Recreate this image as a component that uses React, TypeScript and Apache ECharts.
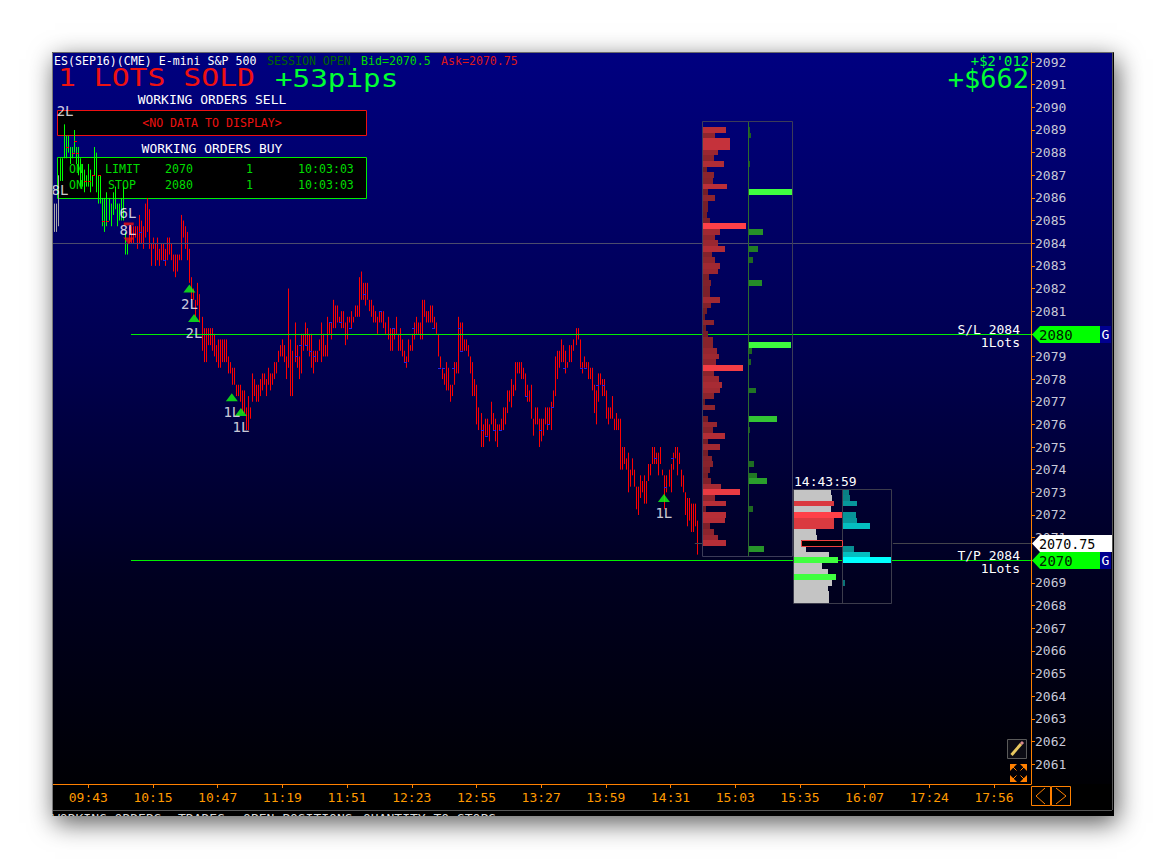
import React, { useEffect, useRef } from "react";
import * as echarts from "echarts";

const MONO = '"DejaVu Sans Mono"';
const priceMin = 2060.12;
const priceMax = 2092.4;
const slotMin = -17.46;
const slotMax = 466.3;

const yTicks = [2061,2062,2063,2064,2065,2066,2067,2068,2069,2070,2071,2072,2073,2074,2075,2076,2077,2078,2079,2080,2081,2082,2083,2084,2085,2086,2087,2088,2089,2090,2091,2092];
const yLabels = [2061,2062,2063,2064,2065,2066,2067,2068,2069,2071,2072,2073,2074,2075,2076,2077,2078,2079,2081,2082,2083,2084,2085,2086,2087,2088,2089,2090,2091,2092];
const xTickSlots = [0,32,64,96,128,160,192,224,256,288,320,352,384,416,448];
const xTickLabels = ["09:43","10:15","10:47","11:19","11:51","12:23","12:55","13:27","13:59","14:31","15:03","15:35","16:07","17:24","17:56"];

const grayHighs = [2085.75,2085.75,2087];
const grayLows = [2084.5,2084.5,2084.75];
const greenHighs = [2087.75,2087.75,2089.25,2088.75,2088.75,2088.25,2088.25,2089,2088.25,2088.25,2087.75,2087.5,2087.25,2087,2087.5,2087.25,2087,2088.25,2088,2087,2087,2086,2086,2086.25,2086,2085.75,2086.25,2086.5,2085.75,2085.75,2086,2086.5,2084.5,2084];
const greenLows = [2086.75,2086.75,2087.75,2087.75,2088,2087.5,2087.75,2088,2087.5,2087,2086.5,2086.5,2086.25,2086.5,2086.5,2086.25,2086.5,2087,2086.25,2085.75,2085.75,2084.75,2084.5,2084.75,2085,2084.75,2085.25,2085.5,2084.75,2085,2085,2085,2083.5,2083.5];
const redHighs = [
  2084.75,2084.75,2084.75,2084.75,2084.75,2085.25,2085,2084.75,2085.75,2086,2085.5,2084,2084.25,2084,2084.25,2083.75,2084,2084,2083.75,2084.25,
  2084.25,2084,2083.5,2083.5,2083.5,2083.5,2085.25,2085,2084.75,2084.5,2083.75,2082.5,2082,2081.5,2082.25,2081.75,2080.75,2080.25,2080.25,2080.25,
  2080.25,2080.25,2080,2079.5,2079.75,2079.75,2079.75,2079.75,2079.75,2079,2078.75,2078.5,2078.5,2077.75,2077.75,2077.75,2077.5,2077.5,2076.75,2077.25,
  2076.75,2078.25,2078,2077.75,2077.75,2078,2078.25,2078.25,2078,2078.5,2078.25,2078.25,2078.75,2078.75,2079.25,2079.5,2079.75,2079.5,2079,2082,
  2079.75,2079.25,2080.5,2079.5,2079,2080,2080,2080.5,2080.25,2080,2080,2079.25,2079.25,2079.25,2079.75,2080.5,2080,2079.5,2080.75,2080.5,
  2080.5,2081.5,2081.25,2081.25,2080.75,2081,2081,2080.5,2080.75,2080.75,2081,2080.75,2081.25,2081.25,2082.5,2082.75,2082.25,2082.25,2082.25,2081.5,
  2081.5,
  2081.25,2081,2080.75,2081,2081,2081,2080.5,2080.75,2080.25,2080.25,2080.25,2080.75,2080,2080.25,2079.75,2079.25,2079,2079.75,2079.5,2080,
  2080.5,2080.75,2080.5,2080.5,2081.5,2081.5,2081,2081,2081.25,2081.25,2080.75,2080.5,2080,2079,2078.5,2078.25,2078.75,2078.5,2077.75,2077.75,
  2078.75,2078.75,2080.75,2080.5,2080.5,2079.75,2079.75,2079.5,2079,2078.75,2078,2077.75,2076.75,2076.5,2076,2076.25,2076.25,2076,2077,2076.5,
  2076.25,2076,2076,2076.25,2076.75,2076.75,2077.5,2077.5,2078,2077.75,2078.75,2078.75,2078.75,2078.75,2078.5,2078.25,2077.75,2077.5,2077.75,2076.25,
  2076.75,2076.75,2076.25,2076.25,2076.25,2076.75,2076.75,2076.75,2077,2077.5,2079,2079.25,2079.25,2079.75,2079.5,2079.25,2078.75,2079.5,2079.5,2079.75,
  2080.25,2080.25,2079.75,2078.75,2079,2078.75,2078.75,2078.5,2078.5,2077.75,2077.5,2078.25,2078.25,2078,2078,2077.5,2076.75,2076.75,2077.25,2076.25,
  2076.5,2076.25,2076.25,2075,2075,2074.5,2074.75,2074,2074.5,2074,2073.25,2073.25,2073.75,2073.5,2073.75,2073.5,2074.25,2074.25,2075,2075,
  2074.75,2074.75,2075,2074,2073.75,2073.75,2074,2074.25,2074.75,2075,2075,2074.75,2074,2073.75,2073,2072.75,2072.75,2072.5,2072.5,2072.5,2071.75,
];
const redLows = [
  2084,2084,2084,2084.25,2083.75,2084,2084,2083.75,2084.25,2084.5,2083.75,2083,2083.75,2083,2083.25,2083,2083.25,2083.25,2083,2083.25,
  2083.5,2083.25,2082.75,2082.5,2082.75,2083.25,2083.25,2084.25,2083.75,2083.25,2082.25,2081.5,2081.5,2080.75,2081.25,2080.5,2079.25,2078.75,2078.75,2079.5,
  2079.5,2079.25,2079,2078.75,2078.5,2078.5,2078.75,2078.75,2078.75,2078.25,2078.25,2077.75,2077.75,2077.25,2077.25,2077,2076.5,2076.5,2075.75,2075.75,
  2076.25,2077,2077.25,2077,2077,2077.25,2077.5,2077.75,2077.25,2077.75,2077.5,2077.75,2078,2078.25,2078.75,2079,2079,2078.75,2078,2078.5,
  2077.25,2077.25,2078.75,2078.5,2078,2078.25,2079.25,2079.5,2079.25,2079,2078.5,2078.25,2078.75,2078.75,2079.25,2078.75,2079,2079,2079,2080,
  2079.75,2080.25,2080.25,2080.5,2080.5,2080.25,2080.25,2079.5,2079.75,2080.5,2080.25,2080.5,2080.75,2080.75,2080.75,2081.5,2081.5,2081.25,2081.5,2081,
  2080.75,
  2080.5,2080.5,2080,2080.5,2080.5,2080.25,2080,2079.75,2079.25,2079.25,2079.75,2080,2079.25,2079.25,2079,2078.75,2078.5,2078.75,2079.25,2079.25,
  2079.75,2080,2080,2079.75,2079.75,2080.75,2080.5,2080.5,2080.5,2080.5,2080.25,2080,2079,2078.5,2078,2077.75,2077.5,2077.5,2077,2077.25,
  2077.75,2078.25,2078.25,2079.25,2079.25,2079.25,2079.25,2079,2078.25,2077.25,2077.25,2076,2075.75,2075,2075,2075.5,2075.5,2075.25,2076,2075.75,
  2075.25,2075,2075.75,2075.75,2075.75,2076,2076.5,2077,2076.75,2077.25,2077.5,2078.25,2078.25,2078,2078,2077.25,2077,2077,2076.25,2075.5,
  2076,2076,2075,2075.25,2075.5,2076,2075.75,2076,2075.75,2076.75,2077.25,2078,2078.5,2078.75,2078.75,2078.25,2078.5,2078.75,2078.75,2079.25,
  2079.5,2079.75,2078.5,2078.25,2078.5,2078.5,2078,2078,2077.5,2076.5,2076,2077,2077.75,2077.25,2077.25,2076.25,2076,2076.25,2076.25,2075.75,
  2075.75,2075.75,2074,2074,2074.25,2074,2073,2073.25,2073.75,2073.25,2072.25,2072,2072.75,2073,2072.5,2072.5,2073.5,2073.75,2074.25,2074.25,
  2074.25,2073.75,2074.25,2073.75,2072.25,2073,2073.25,2073,2074,2074.5,2073.75,2074.25,2073.25,2073,2072,2071.5,2071.75,2071.25,2071.25,2071.5,2070.25,
];

const blueTickSlots = [25,37,102,104,107,109,111,119,124,129,136,144,150,156,160,170,173,175,180,183,184,194,196,200,203,216,223,227,229,235,243,245,251,254,280,285,288];
const blueTickPrices = [2084.5,2083.25,2079,2079.5,2079.5,2079.25,2079,2080.5,2080.5,2080.25,2081.75,2081,2080.25,2078.75,2080.25,2080.25,2078.5,2078.5,2078.5,2080.25,2079.25,2075.75,2075.5,2075.75,2075.75,2077.25,2075.75,2076,2076.75,2078.5,2078.5,2078.5,2077.75,2077.75,2074.5,2073.25,2074.5];
const redTickSlots = [-11,-8,-7,-6,-2,0,2,5,7,9];
const redTickPrices = [2088.25,2088,2088.5,2088,2086.75,2086.75,2087,2087,2085,2085];

const profilePrices = [2089,2088.75,2088.5,2088.25,2088,2087.75,2087.5,2087.25,2087,2086.75,2086.5,2086.25,2086,2085.75,2085.5,2085.25,2085,2084.75,2084.5,2084.25,2084,2083.75,2083.5,2083.25,2083,2082.75,2082.5,2082.25,2082,2081.75,2081.5,2081.25,2081,2080.75,2080.5,2080.25,2080,2079.75,2079.5,2079.25,2079,2078.75,2078.5,2078.25,2078,2077.75,2077.5,2077.25,2077,2076.75,2076.5,2076.25,2076,2075.75,2075.5,2075.25,2075,2074.75,2074.5,2074.25,2074,2073.75,2073.5,2073.25,2073,2072.75,2072.5,2072.25,2072,2071.75,2071.5,2071.25,2071,2070.75];
const profileSell = [23,12,27,27,15,11,21,4,11,10,24,5,12,5,5,4,7,43,17,12,15,22,9,12,17,15,6,8,7,7,17,8,4,2,11,3,5,10,10,14,16,13,40,11,16,19,17,11,2,12,0,5,14,10,22,5,17,5,9,10,7,5,8,18,37,12,23,3,23,22,7,11,15,23];
const buyPrices = [2089,2088.75,2087.5,2086.25,2084.5,2083.75,2083.25,2082.25,2079.5,2079.25,2078.75,2077.5,2076.25,2075.75,2074.25,2073.75,2073.5,2072.25,2070.5];
const buyVolumes = [1,2,1,43,14,9,4,13,42,3,2,7,28,1,5,8,18,4,15];

const domPrices = [2073,2072.75,2072.5,2072.25,2072,2071.75,2071.5,2071.25,2071,2070.75,2070.5,2070.25,2070,2069.75,2069.5,2069.25,2069,2068.75,2068.5,2068.25];
const domVolumes = [37,38,40,37,48,40,40,22,23,7,12,35,44,28,34,42,38,34,35,35];
const domSides = ["n","n","r","n","R","r","r","n","n","n","n","n","G","n","n","G","n","n","n","n"];
const bidPrices = [2073,2072.75,2072.5,2072,2071.75,2071.5,2070.5,2070.25,2070,2069];
const bidVolumes = [6,7,14,13,14,27,11,27,49,2];

const markerSlots = [50,52.3,71,75.5,284.7];
const markerPrices = [2082,2080.7,2077.2,2076.55,2072.75];
const markerTexts = ["2L","2L","1L","1L","1L"];
const noteSlots = [-11.5,-14,19.6,19.6];
const notePrices = [2089.84,2086.35,2085.33,2084.58];
const noteTexts = ["2L","8L","6L","8L"];

const levelPrices = [2080,2070,2084,2070.75,2070.75];
const levelFrom = [21.1,21.1,slotMin,398,300];
const levelTo = [slotMax,slotMax,slotMax,slotMax,304];
const levelColors = ["#00f000","#00f000","#4c4c6c","#44444c","#44444c"];

const mix = (a: number[], b: number[], k: number) => {
  const t = Math.max(0, Math.min(1, k));
  return `rgb(${a.map((v, i) => Math.round(v + (b[i] - v) * t)).join(",")})`;
};

const barSeries = (name: string, color: string, firstSlot: number, highs: number[], lows: number[]) => ({
  type: "custom", name, z: 5, xAxisIndex: 0, yAxisIndex: 0, silent: true,
  data: highs.map((h, i) => [firstSlot + i, lows[i], h]),
  encode: { x: 0, y: [1, 2] },
  renderItem: (_: any, api: any) => {
    const p1 = api.coord([api.value(0), api.value(1)]);
    const p2 = api.coord([api.value(0), api.value(2)]);
    const x = Math.round(p1[0]) + 0.5;
    return { type: "line", shape: { x1: x, y1: p1[1], x2: x, y2: p2[1] }, style: { stroke: color, lineWidth: 1 } };
  },
});

const tickSeries = (color: string, slots: number[], prices: number[]) => ({
  type: "custom", z: 6, xAxisIndex: 0, yAxisIndex: 0, silent: true,
  data: slots.map((s, i) => [s, prices[i]]),
  encode: { x: 0, y: 1 },
  renderItem: (_: any, api: any) => {
    const p = api.coord([api.value(0), api.value(1)]);
    const x = Math.round(p[0]);
    const y = Math.round(p[1]) + 0.5;
    return { type: "line", shape: { x1: x, y1: y, x2: x + 3, y2: y }, style: { stroke: color, lineWidth: 1 } };
  },
});

const levelSeries = {
  type: "custom", z: 6, xAxisIndex: 0, yAxisIndex: 0, silent: true,
  data: levelPrices.map((p, i) => [levelFrom[i], levelTo[i], p, i]),
  encode: { x: [0, 1], y: 2 },
  renderItem: (_: any, api: any) => {
    const a = api.coord([api.value(0), api.value(2)]);
    const b = api.coord([api.value(1), api.value(2)]);
    const y = Math.round(a[1]) + 0.5;
    return { type: "line", shape: { x1: a[0], y1: y, x2: b[0], y2: y }, style: { stroke: levelColors[api.value(3)], lineWidth: 1 } };
  },
};

const rowSeries = (axis: number, prices: number[], vols: number[], colorOf: (v: number, i: number) => string, z = 7) => ({
  type: "custom", z, xAxisIndex: axis, yAxisIndex: axis, silent: true,
  data: prices.map((p, i) => [vols[i], p, i]),
  encode: { x: 0, y: 1 },
  renderItem: (_: any, api: any) => {
    const v = api.value(0);
    const p = api.value(1);
    const a = api.coord([0, p + 0.125]);
    const b = api.coord([v, p - 0.125]);
    const y = Math.round(a[1]);
    return { type: "rect", shape: { x: a[0], y, width: b[0] - a[0], height: Math.round(b[1]) - y }, style: { fill: colorOf(v, api.value(2)) } };
  },
});

const txt = (text: string, x: number, y: number, fill: string, size: number, align = "left", scaleX = 1, z = 60) => ({
  type: "text", x, y, scaleX, z,
  style: { text, fill, font: `${size}px ${MONO}`, textAlign: align, textVerticalAlign: "middle", align, verticalAlign: "middle" },
});
const box = (x: number, y: number, w: number, h: number, fill: string, stroke: string, z = 0) => ({
  type: "rect", z, shape: { x, y, width: w, height: h }, style: { fill, stroke, lineWidth: 1 },
});
const seg = (x1: number, y1: number, x2: number, y2: number, stroke: string, lineWidth = 1, z = 60) => ({
  type: "line", z, shape: { x1, y1, x2, y2 }, style: { stroke, lineWidth },
});
const poly = (points: number[][], fill: string, z = 60) => ({ type: "polygon", z, shape: { points }, style: { fill } });

const priceTag = (y: number, label: string) => [
  poly([[1032, y], [1040, y - 8.5], [1100, y - 8.5], [1100, y + 8.5], [1040, y + 8.5]], "#00ff00", 70),
  { type: "rect", z: 70, shape: { x: 1100, y: y - 8.5, width: 11, height: 17 }, style: { fill: "#000090" } },
  txt(label, 1039, y, "#002000", 14, "left", 1, 71),
  txt("G", 1105.5, y, "#ffffff", 13, "center", 1, 71),
];

const graphics: any[] = [
  seg(52.5, 52.5, 1113.5, 52.5, "#6a6a6a"),
  seg(52.5, 52.5, 52.5, 815, "#7a7a7a"),
  seg(1112.5, 53, 1112.5, 810, "#555555"),
  seg(53, 810.5, 1112, 810.5, "#555555"),
  txt("ES(SEP16)(CME) E-mini S&P 500", 54, 60.5, "#ffffff", 11.6),
  txt("SESSION OPEN", 267, 60.5, "#006600", 11.6),
  txt("Bid=2070.5", 361, 60.5, "#00dd00", 11.6),
  txt("Ask=2070.75", 441, 60.5, "#dd1a1a", 11.6),
  txt("1 LOTS SOLD", 58, 78, "#ee1111", 24, "left", 1.24),
  txt("+53pips", 275, 78, "#00ff33", 24, "left", 1.22),
  txt("+$2'012", 1029, 61, "#00ff33", 13.8, "right"),
  txt("+$662", 1029, 78, "#00ff33", 27, "right"),
  txt("WORKING ORDERS SELL", 212, 99, "#ffffff", 13, "center"),
  box(57.5, 110.5, 309, 25, "#000000", "#ee1111"),
  txt("<NO DATA TO DISPLAY>", 212, 122.5, "#ee1111", 11.6, "center", 1, 1),
  txt("WORKING ORDERS BUY", 212, 148, "#ffffff", 13, "center"),
  box(57.5, 157.5, 309, 41, "#000000", "#00ee00"),
  txt("ON", 69, 169, "#00dd00", 11.6, "left", 1, 1),
  txt("LIMIT", 105, 169, "#00dd00", 11.6, "left", 1, 1),
  txt("2070", 165, 169, "#00dd00", 11.6, "left", 1, 1),
  txt("1", 246, 169, "#00dd00", 11.6, "left", 1, 1),
  txt("10:03:03", 298, 169, "#00dd00", 11.6, "left", 1, 1),
  txt("ON", 69, 185, "#00dd00", 11.6, "left", 1, 1),
  txt("STOP", 108, 185, "#00dd00", 11.6, "left", 1, 1),
  txt("2080", 165, 185, "#00dd00", 11.6, "left", 1, 1),
  txt("1", 246, 185, "#00dd00", 11.6, "left", 1, 1),
  txt("10:03:03", 298, 185, "#00dd00", 11.6, "left", 1, 1),
  { type: "rect", z: 8, shape: { x: 702.5, y: 121.5, width: 90, height: 435 }, style: { fill: "none", stroke: "#3c3c58", lineWidth: 1 } },
  seg(748.5, 122, 748.5, 556, "#2c6a2c", 1, 8),
  { type: "rect", z: 8, shape: { x: 793.5, y: 489.5, width: 98, height: 114 }, style: { fill: "none", stroke: "#3c3c4c", lineWidth: 1 } },
  seg(842.5, 490, 842.5, 603, "#3c3c4c", 1, 8),
  { type: "rect", z: 9, shape: { x: 801.5, y: 540.5, width: 41, height: 6 }, style: { fill: "#000000", stroke: "#ee4040", lineWidth: 1 } },
  txt("14:43:59", 794, 481, "#ffffff", 13),
  txt("S/L 2084", 1020, 329, "#ffffff", 13, "right"),
  txt("1Lots", 1020, 342, "#ffffff", 13, "right"),
  txt("T/P 2084", 1020, 555, "#ffffff", 13, "right"),
  txt("1Lots", 1020, 568, "#ffffff", 13, "right"),
  ...priceTag(334.5, "2080"),
  ...priceTag(560.5, "2070"),
  poly([[1032, 543.5], [1040, 535], [1112, 535], [1112, 552], [1040, 552]], "#ffffff", 72),
  txt("2070.75", 1039, 544, "#000000", 13.4, "left", 1, 73),
  box(1007.5, 739.5, 19, 19, "#0c0c14", "#5a5a5a", 60),
  seg(1011.5, 755, 1021, 744, "#e8c860", 3, 61),
  seg(1021, 744, 1023, 742, "#d88a90", 3, 61),
  poly([[1010, 764], [1017, 764], [1010, 771]], "#ff8000"),
  poly([[1027, 764], [1020, 764], [1027, 771]], "#ff8000"),
  poly([[1010, 782], [1017, 782], [1010, 775]], "#ff8000"),
  poly([[1027, 782], [1020, 782], [1027, 775]], "#ff8000"),
  seg(1013, 767, 1016.5, 770.5, "#ff8000"),
  seg(1024, 767, 1020.5, 770.5, "#ff8000"),
  seg(1013, 779, 1016.5, 775.5, "#ff8000"),
  seg(1024, 779, 1020.5, 775.5, "#ff8000"),
  { type: "rect", z: 60, shape: { x: 1031.5, y: 786.5, width: 19, height: 19 }, style: { fill: "none", stroke: "#ff8000", lineWidth: 1 } },
  { type: "rect", z: 60, shape: { x: 1051.5, y: 786.5, width: 19, height: 19 }, style: { fill: "none", stroke: "#ff8000", lineWidth: 1 } },
  { type: "polyline", z: 60, shape: { points: [[1045, 788], [1036, 796], [1045, 804]] }, style: { fill: "none", stroke: "#ff8000", lineWidth: 1 } },
  { type: "polyline", z: 60, shape: { points: [[1056, 788], [1066, 796], [1056, 804]] }, style: { fill: "none", stroke: "#ff8000", lineWidth: 1 } },
  txt("WORKING ORDERS", 52, 818, "#d8d8d8", 13),
  txt("TRADES", 178, 818, "#d8d8d8", 13),
  txt("OPEN POSITIONS", 243, 818, "#d8d8d8", 13),
  txt("QUANTITY TO STOPS", 363, 818, "#d8d8d8", 13),
];

const hiddenAxis = (gridIndex: number, max: number) => ({ type: "value", gridIndex, min: 0, max, show: false });
const hiddenPrice = (gridIndex: number) => ({ type: "value", gridIndex, min: priceMin, max: priceMax, show: false });
const gridAt = (left: number, width: number) => ({ left, width, top: 53, height: 731 });
const axisOrange = { lineStyle: { color: "#ff8000", width: 1 } };

export default function App() {
  const ref = useRef<HTMLDivElement>(null);
  useEffect(() => {
    if (!ref.current) return;
    const chart = echarts.init(ref.current, undefined, { renderer: "svg" });
    const greenStart = -17 + grayHighs.length;
    const redStart = greenStart + greenHighs.length;
    chart.setOption({
      animation: false,
      grid: [gridAt(53, 978), gridAt(703, 45), gridAt(749, 43), gridAt(794, 48), gridAt(843, 49)],
      xAxis: [
        {
          type: "value", gridIndex: 0, min: slotMin, max: slotMax, position: "bottom", splitLine: { show: false },
          axisLine: { show: true, onZero: false, ...axisOrange },
          axisTick: { show: true, length: 4, customValues: xTickSlots, ...axisOrange },
          axisLabel: {
            customValues: xTickSlots, margin: 7, color: "#ff9a00", fontFamily: MONO, fontSize: 13,
            formatter: (v: number) => xTickLabels[xTickSlots.indexOf(v)] ?? "",
          },
        },
        hiddenAxis(1, 45), hiddenAxis(2, 43), hiddenAxis(3, 48), hiddenAxis(4, 49),
      ],
      yAxis: [
        {
          type: "value", gridIndex: 0, min: priceMin, max: priceMax, position: "right", splitLine: { show: false },
          axisLine: { show: true, onZero: false, ...axisOrange },
          axisTick: { show: true, length: 4, customValues: yTicks, ...axisOrange },
          axisLabel: { customValues: yLabels, margin: 4, color: "#c8c8d8", fontFamily: MONO, fontSize: 13, formatter: (v: number) => String(v) },
        },
        hiddenPrice(1), hiddenPrice(2), hiddenPrice(3), hiddenPrice(4),
      ],
      graphic: graphics,
      series: [
        barSeries("gray", "#a8a8a8", -17, grayHighs, grayLows),
        barSeries("green", "#00ff00", greenStart, greenHighs, greenLows),
        barSeries("red", "#ff0000", redStart, redHighs, redLows),
        tickSeries("#2222ee", blueTickSlots, blueTickPrices),
        tickSeries("#ff0000", redTickSlots, redTickPrices),
        levelSeries,
        rowSeries(1, profilePrices, profileSell, (v) => mix([100, 26, 36], [255, 64, 72], v / 43)),
        rowSeries(2, buyPrices, buyVolumes, (v) => mix([26, 90, 30], [64, 255, 64], v / 43)),
        rowSeries(3, domPrices, domVolumes, (_v, i) => ({ n: "#c4c4c4", r: "#da3a40", R: "#ff4048", G: "#40ff40" } as any)[domSides[i]]),
        rowSeries(4, bidPrices, bidVolumes, (v) => mix([10, 110, 115], [0, 255, 255], v / 49)),
        {
          type: "scatter", z: 20, xAxisIndex: 0, yAxisIndex: 0, silent: true, symbol: "triangle", symbolSize: [12, 8],
          itemStyle: { color: "#11ff11" },
          label: {
            show: true, position: "bottom", distance: 4, color: "#ffffff", fontFamily: MONO, fontSize: 14,
            formatter: (p: any) => markerTexts[p.dataIndex],
          },
          data: markerSlots.map((s, i) => [s, markerPrices[i]]),
        },
        {
          type: "scatter", z: 20, xAxisIndex: 0, yAxisIndex: 0, silent: true, symbol: "triangle", symbolRotate: 180, symbolSize: [11, 7],
          itemStyle: { color: "#ee1111" }, data: [[20, 2084.1]],
        },
        {
          type: "scatter", z: 19, xAxisIndex: 0, yAxisIndex: 0, silent: true, symbol: "rect", symbolSize: [10, 3],
          itemStyle: { color: "#ee1111" }, data: [[20, 2084.85]],
        },
        {
          type: "scatter", z: 21, xAxisIndex: 0, yAxisIndex: 0, silent: true, symbolSize: 1, itemStyle: { color: "transparent" },
          label: {
            show: true, position: "inside", color: "#ffffff", fontFamily: MONO, fontSize: 14,
            formatter: (p: any) => noteTexts[p.dataIndex],
          },
          data: noteSlots.map((s, i) => [s, notePrices[i]]),
        },
      ],
    });
    return () => chart.dispose();
  }, []);
  return (
    <div style={{ position: "fixed", left: 0, top: 0, width: 1166, height: 868, background: "#ffffff", overflow: "hidden" }}>
      <div style={{ position: "absolute", left: 52, top: 52, width: 1062, height: 764, background: "#000000", overflow: "hidden", boxShadow: "3px 7px 24px rgba(0,0,0,0.65)" }}>
        <div style={{ position: "absolute", left: 1, top: 1, width: 1059, height: 731, background: "linear-gradient(180deg,#000080 0%,#000052 40%,#000020 72%,#000004 100%)" }} />
        <div ref={ref} style={{ position: "absolute", left: -52, top: -52, width: 1166, height: 868 }} />
      </div>
    </div>
  );
}
